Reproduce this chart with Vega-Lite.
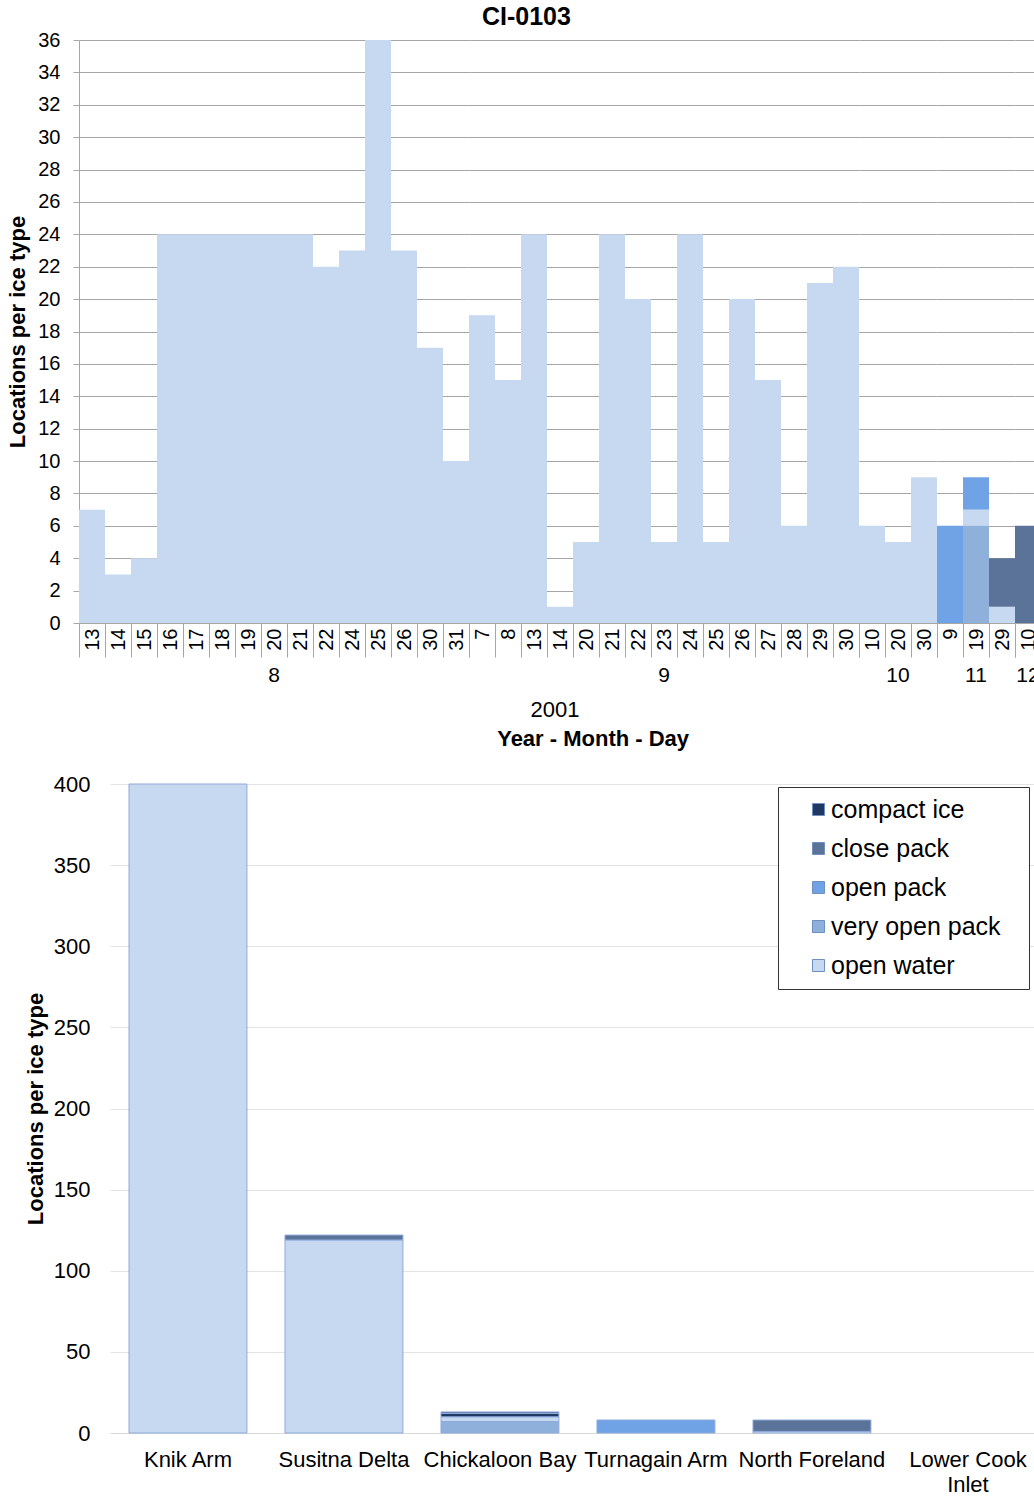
{
  "$schema": "https://vega.github.io/schema/vega-lite/v6.json",
  "padding": {"left": 6, "top": 5, "right": 0, "bottom": 0},
  "background": "white",
  "title": {"text": "CI-0103", "fontSize": 25, "fontWeight": "bold", "anchor": "middle", "frame": "bounds", "offset": 0},
  "config": {
    "font": "Liberation Sans",
    "view": {"stroke": null},
    "axis": {"labelFont": "Liberation Sans", "titleFont": "Liberation Sans", "labelColor": "black", "titleColor": "black"},
    "header": {"labelFont": "Liberation Sans", "titleFont": "Liberation Sans", "labelColor": "black", "titleColor": "black"},
    "legend": {"labelFont": "Liberation Sans", "labelColor": "black"},
    "title": {"font": "Liberation Sans", "color": "black"}
  },
  "datasets": {
    "daily": [
      {"month": 8, "day": 13, "type": "open water", "count": 7},
      {"month": 8, "day": 14, "type": "open water", "count": 3},
      {"month": 8, "day": 15, "type": "open water", "count": 4},
      {"month": 8, "day": 16, "type": "open water", "count": 24},
      {"month": 8, "day": 17, "type": "open water", "count": 24},
      {"month": 8, "day": 18, "type": "open water", "count": 24},
      {"month": 8, "day": 19, "type": "open water", "count": 24},
      {"month": 8, "day": 20, "type": "open water", "count": 24},
      {"month": 8, "day": 21, "type": "open water", "count": 24},
      {"month": 8, "day": 22, "type": "open water", "count": 22},
      {"month": 8, "day": 24, "type": "open water", "count": 23},
      {"month": 8, "day": 25, "type": "open water", "count": 36},
      {"month": 8, "day": 26, "type": "open water", "count": 23},
      {"month": 8, "day": 30, "type": "open water", "count": 17},
      {"month": 8, "day": 31, "type": "open water", "count": 10},
      {"month": 9, "day": 7, "type": "open water", "count": 19},
      {"month": 9, "day": 8, "type": "open water", "count": 15},
      {"month": 9, "day": 13, "type": "open water", "count": 24},
      {"month": 9, "day": 14, "type": "open water", "count": 1},
      {"month": 9, "day": 20, "type": "open water", "count": 5},
      {"month": 9, "day": 21, "type": "open water", "count": 24},
      {"month": 9, "day": 22, "type": "open water", "count": 20},
      {"month": 9, "day": 23, "type": "open water", "count": 5},
      {"month": 9, "day": 24, "type": "open water", "count": 24},
      {"month": 9, "day": 25, "type": "open water", "count": 5},
      {"month": 9, "day": 26, "type": "open water", "count": 20},
      {"month": 9, "day": 27, "type": "open water", "count": 15},
      {"month": 9, "day": 28, "type": "open water", "count": 6},
      {"month": 9, "day": 29, "type": "open water", "count": 21},
      {"month": 9, "day": 30, "type": "open water", "count": 22},
      {"month": 10, "day": 10, "type": "open water", "count": 6},
      {"month": 10, "day": 20, "type": "open water", "count": 5},
      {"month": 10, "day": 30, "type": "open water", "count": 9},
      {"month": 11, "day": 9, "type": "open pack", "count": 6},
      {"month": 11, "day": 19, "type": "open water", "count": 1},
      {"month": 11, "day": 19, "type": "very open pack", "count": 6},
      {"month": 11, "day": 19, "type": "open pack", "count": 2},
      {"month": 11, "day": 29, "type": "open water", "count": 1},
      {"month": 11, "day": 29, "type": "close pack", "count": 3},
      {"month": 12, "day": 10, "type": "close pack", "count": 6}
    ],
    "regions": [
      {"region": "Knik Arm", "type": "open water", "count": 400},
      {"region": "Susitna Delta", "type": "open water", "count": 119},
      {"region": "Susitna Delta", "type": "close pack", "count": 3},
      {"region": "Chickaloon Bay", "type": "open water", "count": 3},
      {"region": "Chickaloon Bay", "type": "very open pack", "count": 7},
      {"region": "Chickaloon Bay", "type": "close pack", "count": 1},
      {"region": "Chickaloon Bay", "type": "compact ice", "count": 2},
      {"region": "Turnagain Arm", "type": "open pack", "count": 8},
      {"region": "North Foreland", "type": "open water", "count": 1},
      {"region": "North Foreland", "type": "close pack", "count": 7}
    ]
  },
  "resolve": {"legend": {"color": "independent"}},
  "spacing": 23,
  "vconcat": [
    {
      "data": {"name": "daily"},
      "title": {"text": "Year - Month - Day", "orient": "bottom", "fontSize": 22, "fontWeight": "bold", "anchor": "middle", "dx": 69, "offset": 8},
      "facet": {
        "column": {
          "field": "month", "type": "ordinal", "sort": "ascending",
          "header": {"title": "2001", "titleOrient": "bottom", "labelOrient": "bottom", "labelFontSize": 21, "titleFontSize": 22, "titleFontWeight": "normal", "labelPadding": 42, "titlePadding": 4}
        }
      },
      "spacing": 0,
      "bounds": "flush",
      "resolve": {"scale": {"x": "independent"}},
      "spec": {
        "width": {"step": 26},
        "height": 583,
        "mark": {"type": "bar"},
        "encoding": {
          "x": {
            "field": "day", "type": "ordinal",
            "scale": {"paddingInner": 0, "paddingOuter": 0},
            "axis": {"title": null, "labelAngle": 270, "labelFontSize": 20, "tickBand": "extent", "tickSize": 34, "labelPadding": -29, "tickColor": "#a6a6a6", "domainColor": "#a6a6a6", "labelOverlap": false}
          },
          "y": {
            "field": "count", "type": "quantitative", "stack": "zero",
            "scale": {"domain": [0, 36], "nice": false},
            "axis": {"title": "Locations per ice type", "titleFontSize": 22, "titleFontWeight": "bold", "values": [0,2,4,6,8,10,12,14,16,18,20,22,24,26,28,30,32,34,36], "labelFontSize": 20, "gridColor": "#a6a6a6", "domainColor": "#a6a6a6", "tickColor": "#a6a6a6", "tickSize": 6, "labelPadding": 13, "titlePadding": 8}
          },
          "color": {
            "field": "type", "type": "nominal",
            "sort": ["open water", "very open pack", "open pack", "close pack", "compact ice"],
            "scale": {"domain": ["compact ice", "close pack", "open pack", "very open pack", "open water"], "range": ["#1f3864", "#5b7299", "#6fa3e6", "#8eb0da", "#c6d9f0"]},
            "legend": null
          }
        }
      }
    },
    {
      "data": {"name": "regions"},
      "width": 967,
      "height": 649,
      "mark": {"type": "bar", "stroke": "#8eaadb", "strokeWidth": 1},
      "encoding": {
        "x": {
          "field": "region", "type": "nominal",
          "scale": {"domain": ["Knik Arm", "Susitna Delta", "Chickaloon Bay", "Turnagain Arm", "North Foreland", "Lower Cook Inlet"], "paddingInner": 0.244, "paddingOuter": 0.2215, "align": 0.7236},
          "axis": {"title": null, "labelAngle": 0, "labelFontSize": 22, "ticks": false, "domainColor": "#d9d9d9", "domainDash": [0, 31, 3000, 0], "labelPadding": 16, "labelLineHeight": 25, "labelExpr": "datum.value == 'Lower Cook Inlet' ? ['Lower Cook', 'Inlet'] : datum.label"}
        },
        "y": {
          "field": "count", "type": "quantitative", "stack": "zero",
          "scale": {"domain": [0, 400], "nice": false},
          "axis": {"title": "Locations per ice type", "titleFontSize": 22, "titleFontWeight": "bold", "values": [0,50,100,150,200,250,300,350,400], "labelFontSize": 22, "gridColor": "#e3e3e3", "gridDash": [0, 31, 3000, 0], "domain": false, "ticks": false, "labelPadding": -11, "titlePadding": 6}
        },
        "color": {
          "field": "type", "type": "nominal",
          "sort": ["open water", "very open pack", "open pack", "close pack", "compact ice"],
          "scale": {"domain": ["compact ice", "close pack", "open pack", "very open pack", "open water"], "range": ["#1f3864", "#5b7299", "#6fa3e6", "#8eb0da", "#c6d9f0"]},
          "legend": {"orient": "none", "legendX": 699, "legendY": 3, "title": null, "labelFontSize": 25, "labelLimit": 400, "labelExpr": "datum.label + '\u2800'", "symbolType": "square", "symbolSize": 144, "rowPadding": 13, "padding": 10, "strokeColor": "#333333", "fillColor": "white", "symbolOffset": 18, "labelOffset": 0, "symbolStrokeColor": "#6f8fbf", "symbolStrokeWidth": 1}
        }
      }
    }
  ]
}
